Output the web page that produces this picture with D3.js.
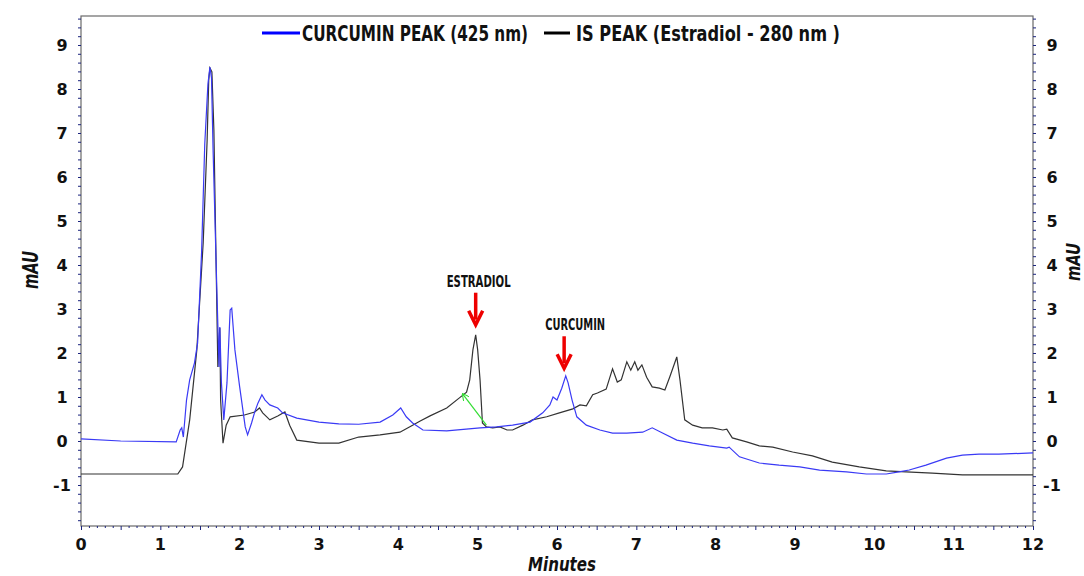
<!DOCTYPE html>
<html>
<head>
<meta charset="utf-8">
<script src="https://cdn.jsdelivr.net/npm/d3@7"></script>
<style>
  body { margin: 0; background: #fff; }
  svg { display: block; }
  .tick-label { font-family: "DejaVu Sans", Arial, sans-serif; font-weight: bold; font-size: 16px; fill: #111; }
  .narrow { font-family: "DejaVu Sans Condensed", "Liberation Sans Narrow", sans-serif; font-weight: bold; fill: #111; }
</style>
</head>
<body>
<div id="chart"></div>
<script>
// IS peak (Estradiol, 280 nm) - black trace
const isTime = [0, 1.22, 1.28, 1.37, 1.46, 1.54, 1.59, 1.61, 1.625, 1.65, 1.675, 1.70, 1.725, 1.74, 1.75, 1.76, 1.79, 1.83, 1.88, 2.06, 2.19, 2.25, 2.29, 2.38, 2.48, 2.57, 2.63, 2.72, 3.0, 3.25, 3.5, 3.77, 4.02, 4.18, 4.27, 4.40, 4.61, 4.77, 4.86, 4.90, 4.94, 4.975, 5.0, 5.03, 5.06, 5.11, 5.19, 5.28, 5.37, 5.44, 5.57, 5.69, 5.87, 6.03, 6.20, 6.29, 6.37, 6.45, 6.51, 6.62, 6.70, 6.76, 6.81, 6.88, 6.93, 6.98, 7.02, 7.07, 7.13, 7.20, 7.29, 7.36, 7.42, 7.51, 7.55, 7.61, 7.71, 7.83, 7.96, 8.09, 8.14, 8.21, 8.39, 8.55, 8.72, 8.97, 9.22, 9.47, 9.81, 10.15, 10.40, 10.73, 11.11, 12.0];
const isValue = [-0.75, -0.75, -0.59, 0.48, 2.07, 4.5, 6.84, 8.2, 8.48, 8.39, 7.07, 4.34, 1.68, 2.3, 2.57, 0.93, -0.05, 0.36, 0.55, 0.59, 0.66, 0.75, 0.64, 0.48, 0.57, 0.66, 0.36, 0.02, -0.05, -0.05, 0.09, 0.14, 0.2, 0.36, 0.45, 0.57, 0.75, 0.98, 1.11, 1.39, 2.07, 2.41, 2.07, 1.39, 0.41, 0.32, 0.30, 0.32, 0.25, 0.25, 0.36, 0.48, 0.55, 0.64, 0.73, 0.82, 0.80, 1.05, 1.09, 1.18, 1.64, 1.34, 1.39, 1.80, 1.61, 1.80, 1.61, 1.73, 1.45, 1.23, 1.20, 1.16, 1.45, 1.91, 1.39, 0.48, 0.36, 0.30, 0.30, 0.25, 0.27, 0.07, -0.02, -0.11, -0.14, -0.25, -0.34, -0.48, -0.59, -0.68, -0.70, -0.73, -0.77, -0.77];

// Curcumin peak (425 nm) - blue trace
const curTime = [0, 0.5, 1.2, 1.25, 1.27, 1.29, 1.33, 1.37, 1.43, 1.47, 1.52, 1.56, 1.60, 1.625, 1.645, 1.665, 1.71, 1.74, 1.75, 1.77, 1.80, 1.84, 1.88, 1.90, 1.94, 2.0, 2.07, 2.10, 2.15, 2.19, 2.23, 2.28, 2.32, 2.38, 2.48, 2.54, 2.72, 3.0, 3.25, 3.5, 3.77, 3.93, 4.03, 4.10, 4.18, 4.31, 4.61, 5.03, 5.24, 5.44, 5.66, 5.82, 5.91, 5.95, 6.0, 6.06, 6.11, 6.14, 6.19, 6.25, 6.37, 6.54, 6.70, 6.88, 7.08, 7.20, 7.33, 7.51, 7.71, 7.92, 8.14, 8.17, 8.30, 8.55, 8.80, 9.06, 9.31, 9.65, 9.90, 10.15, 10.31, 10.44, 10.65, 10.91, 11.11, 11.32, 11.57, 12.0];
const curValue = [0.05, 0.0, -0.02, 0.25, 0.30, 0.09, 0.93, 1.39, 1.77, 2.23, 4.29, 6.75, 8.11, 8.5, 8.25, 6.61, 3.59, 1.68, 2.59, 1.32, 0.48, 1.32, 2.98, 3.02, 2.07, 1.23, 0.32, 0.14, 0.41, 0.66, 0.86, 1.05, 0.93, 0.82, 0.75, 0.64, 0.52, 0.43, 0.39, 0.38, 0.43, 0.59, 0.75, 0.55, 0.41, 0.25, 0.23, 0.30, 0.32, 0.36, 0.43, 0.64, 0.82, 1.0, 0.93, 1.2, 1.48, 1.32, 0.93, 0.55, 0.36, 0.25, 0.18, 0.18, 0.20, 0.30, 0.18, 0.02, -0.05, -0.11, -0.16, -0.14, -0.36, -0.50, -0.55, -0.59, -0.66, -0.70, -0.75, -0.75, -0.70, -0.66, -0.55, -0.39, -0.32, -0.30, -0.30, -0.27];

const xTicks = [0, 1, 2, 3, 4, 5, 6, 7, 8, 9, 10, 11, 12];
const yTicks = [-1, 0, 1, 2, 3, 4, 5, 6, 7, 8, 9];

// peak labels: [label, time, value where arrow points, label width, label offset]
const peakNotes = [["ESTRADIOL", 4.975, 2.62, 64, 3], ["CURCUMIN", 6.09, 1.63, 60, 11]];

const width = 1084, height = 576;
const margin = {top: 16, right: 51, bottom: 50, left: 81};

const svg = d3.select("#chart").append("svg")
  .attr("width", width)
  .attr("height", height);

const x = d3.scaleLinear().domain([0, 12]).range([margin.left, width - margin.right]);
const y = d3.scaleLinear().domain([-1.932, 9.659]).range([height - margin.bottom, margin.top]);

// frame
svg.append("rect")
  .attr("x", x(0)).attr("y", y.range()[1])
  .attr("width", x(12) - x(0)).attr("height", y.range()[0] - y.range()[1])
  .attr("fill", "none").attr("stroke", "#6a6a6a").attr("stroke-width", 1.2);

// minor ticks
const tickColor = "#1a237e";
const yMinor = d3.range(-1.8, 9.61, 0.2);
const xMinor = d3.range(0, 12.001, 0.1);

svg.append("g")
  .attr("transform", `translate(${x(0)},0)`)
  .call(d3.axisLeft(y).tickValues(yMinor).tickSize(3).tickFormat(""))
  .call(g => g.select(".domain").remove())
  .call(g => g.selectAll("line").attr("stroke", tickColor));

svg.append("g")
  .attr("transform", `translate(${x(12)},0)`)
  .call(d3.axisRight(y).tickValues(yMinor).tickSize(3).tickFormat(""))
  .call(g => g.select(".domain").remove())
  .call(g => g.selectAll("line").attr("stroke", tickColor));

svg.append("g")
  .attr("transform", `translate(0,${y.range()[0]})`)
  .call(d3.axisBottom(x).tickValues(xMinor).tickSize(2).tickFormat(""))
  .call(g => g.select(".domain").remove())
  .call(g => g.selectAll("line").attr("stroke", tickColor)
    .attr("y2", d => Math.abs(d * 2 - Math.round(d * 2)) < 0.01 ? 4 : 2));

// tick labels
svg.append("g").selectAll("text")
  .data(yTicks)
  .enter().append("text")
  .attr("class", "tick-label")
  .attr("x", 62)
  .attr("y", d => y(d) + 6)
  .attr("text-anchor", "middle")
  .text(d => d);

svg.append("g").selectAll("text")
  .data(yTicks)
  .enter().append("text")
  .attr("class", "tick-label")
  .attr("x", 1052)
  .attr("y", d => y(d) + 6)
  .attr("text-anchor", "middle")
  .text(d => d);

svg.append("g").selectAll("text")
  .data(xTicks)
  .enter().append("text")
  .attr("class", "tick-label")
  .attr("x", d => x(d))
  .attr("y", 550)
  .attr("text-anchor", "middle")
  .text(d => d);

// axis titles
svg.append("text")
  .attr("class", "narrow")
  .attr("transform", "translate(38,270) rotate(-90)")
  .attr("x", -19)
  .attr("textLength", 38).attr("lengthAdjust", "spacingAndGlyphs")
  .style("font-size", "22px").style("font-style", "italic")
  .text("mAU");

svg.append("text")
  .attr("class", "narrow")
  .attr("transform", "translate(1080,262) rotate(-90)")
  .attr("x", -19)
  .attr("textLength", 38).attr("lengthAdjust", "spacingAndGlyphs")
  .style("font-size", "19px").style("font-style", "italic")
  .text("mAU");

svg.append("text")
  .attr("class", "narrow")
  .attr("x", 528).attr("y", 571)
  .attr("textLength", 68).attr("lengthAdjust", "spacingAndGlyphs")
  .style("font-size", "19px").style("font-style", "italic")
  .text("Minutes");

// traces
const line = d3.line().x(d => x(d[0])).y(d => y(d[1]));

svg.append("path")
  .datum(isTime.map((t, i) => [t, isValue[i]]))
  .attr("d", line)
  .attr("fill", "none")
  .attr("stroke", "#333")
  .attr("stroke-width", 1.2);

svg.append("path")
  .datum(curTime.map((t, i) => [t, curValue[i]]))
  .attr("d", line)
  .attr("fill", "none")
  .attr("stroke", "#3a3af5")
  .attr("stroke-width", 1.2);

// integration line under estradiol peak (green)
const defs = svg.append("defs");
defs.append("marker")
  .attr("id", "greenHead")
  .attr("viewBox", "0 0 10 10")
  .attr("refX", 9).attr("refY", 5)
  .attr("markerWidth", 6).attr("markerHeight", 6)
  .attr("orient", "auto")
  .append("path")
  .attr("d", "M0,0 L10,5 L0,10")
  .attr("fill", "none").attr("stroke", "#33dd33").attr("stroke-width", 1.5);

svg.append("line")
  .attr("x1", x(5.11)).attr("y1", y(0.36))
  .attr("x2", x(4.81)).attr("y2", y(1.07))
  .attr("stroke", "#33dd33").attr("stroke-width", 1.2)
  .attr("marker-end", "url(#greenHead)");

// peak annotations with red arrows
const notes = svg.append("g");
peakNotes.forEach(([label, t, v, w, off]) => {
  const px = x(t), py = y(v);
  notes.append("text")
    .attr("class", "narrow")
    .attr("x", px + off - w / 2).attr("y", py - 39)
    .attr("textLength", w).attr("lengthAdjust", "spacingAndGlyphs")
    .style("font-size", "15px")
    .text(label);
  notes.append("line")
    .attr("x1", px).attr("y1", py - 33)
    .attr("x2", px).attr("y2", py - 6)
    .attr("stroke", "#ee0000").attr("stroke-width", 3.5);
  notes.append("path")
    .attr("d", `M${px - 7},${py - 15} L${px},${py - 1} L${px + 7},${py - 15}`)
    .attr("fill", "none").attr("stroke", "#ee0000").attr("stroke-width", 3.5)
    .attr("stroke-linejoin", "miter");
});

// legend
const legend = svg.append("g");
legend.append("line")
  .attr("x1", 262).attr("x2", 300).attr("y1", 33).attr("y2", 33)
  .attr("stroke", "#0000ff").attr("stroke-width", 3);
legend.append("text")
  .attr("class", "narrow")
  .attr("x", 302).attr("y", 41)
  .attr("textLength", 226).attr("lengthAdjust", "spacingAndGlyphs")
  .style("font-size", "21px")
  .text("CURCUMIN PEAK (425 nm)");
legend.append("line")
  .attr("x1", 544).attr("x2", 570).attr("y1", 33).attr("y2", 33)
  .attr("stroke", "#000").attr("stroke-width", 3);
legend.append("text")
  .attr("class", "narrow")
  .attr("x", 576).attr("y", 41)
  .attr("textLength", 264).attr("lengthAdjust", "spacingAndGlyphs")
  .style("font-size", "21px")
  .text("IS PEAK (Estradiol - 280 nm )");
</script>
</body>
</html>
